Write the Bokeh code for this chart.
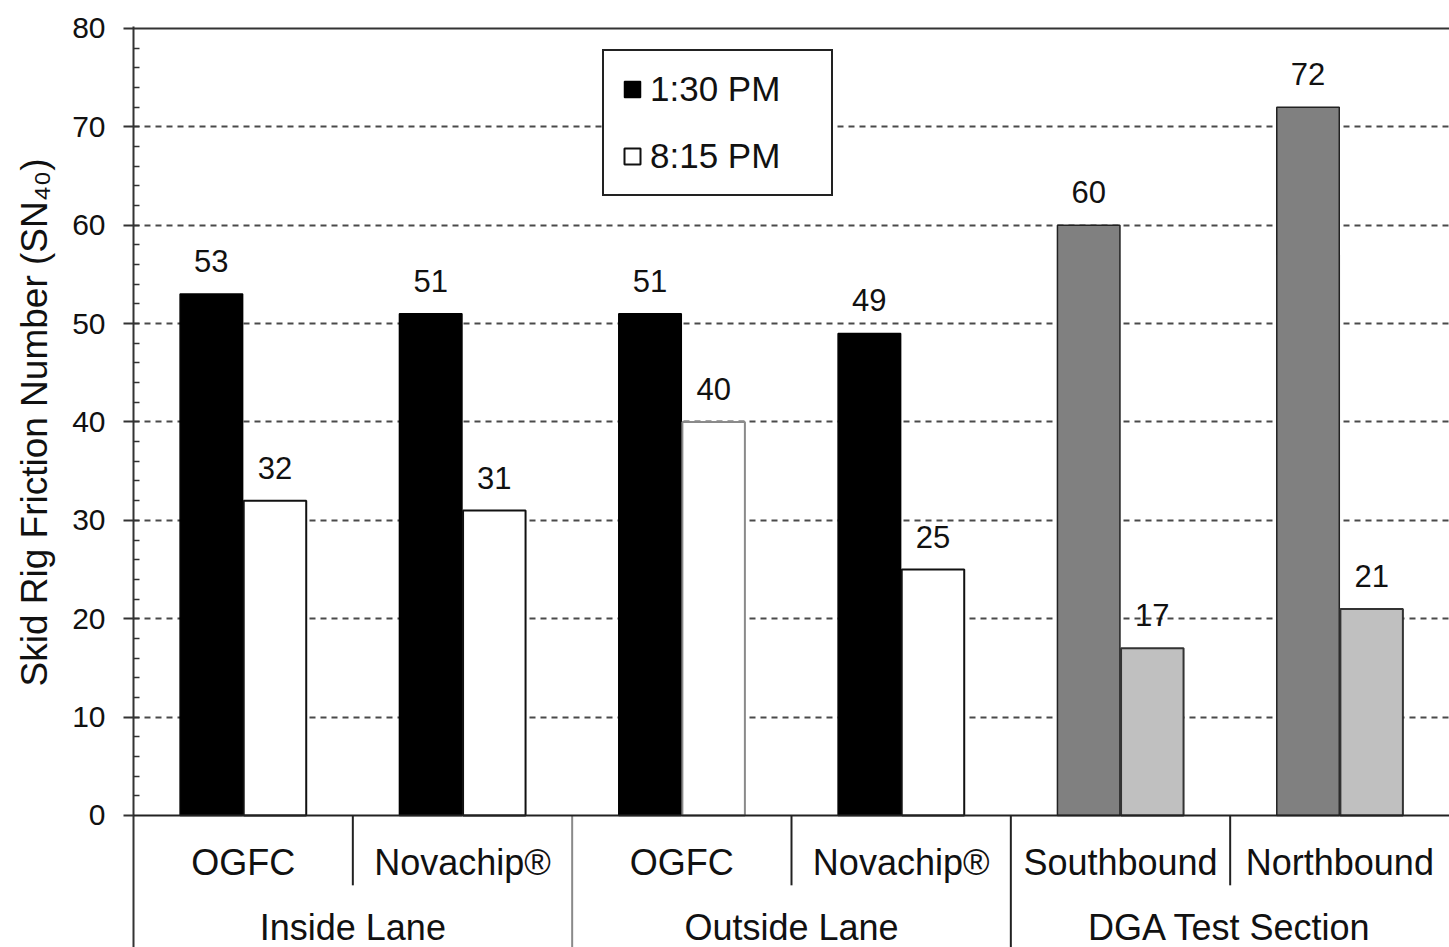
from bokeh.plotting import figure
from bokeh.models import (FactorRange, Range1d, FixedTicker, ColumnDataSource, Span,
                          Legend, LegendItem, Title)
from bokeh.transform import dodge
from bokeh.core.properties import value
from bokeh.embed import file_html
from bokeh.resources import INLINE

# ---------------- data ----------------
groups = ["Inside Lane", "Inside Lane", "Outside Lane", "Outside Lane",
          "DGA Test Section", "DGA Test Section"]
surfaces = ["OGFC", "Novachip®", "OGFC", "Novachip®", "Southbound", "Northbound"]
pm130 = [53, 51, 51, 49, 60, 72]
pm815 = [32, 31, 40, 25, 17, 21]
series_labels = ["1:30 PM", "8:15 PM"]
group_names = ["Inside Lane", "Outside Lane", "DGA Test Section"]
y_ticks = [0, 10, 20, 30, 40, 50, 60, 70, 80]
grid_ticks = [10, 20, 30, 40, 50, 60, 70]
y_title = "Skid Rig Friction Number (SN₄₀)"

# ---------------- styles ----------------
fill130 = ["black", "black", "black", "black", "#808080", "#808080"]
line130 = ["black", "black", "black", "black", "#222222", "#222222"]
fill815 = ["white", "white", "white", "white", "#c0c0c0", "#c0c0c0"]
line815 = ["#111111", "#111111", "#8a8a8a", "#111111", "#333333", "#333333"]
sep_colors = ["#8a8a8a", "#222222"]
FONT = "Liberation Sans"
TXT = "#111111"

factors = list(zip(groups, surfaces))
src = ColumnDataSource(dict(
    x=factors, pm130=pm130, pm815=pm815,
    t130=[str(v) for v in pm130], t815=[str(v) for v in pm815],
    f130=fill130, l130=line130, f815=fill815, l815=line815,
))

p = figure(
    x_range=FactorRange(*factors, range_padding=0, group_padding=0,
                        subgroup_padding=0, factor_padding=0),
    y_range=Range1d(-13.42, 80.2),
    width=1449, height=947,
    output_backend="svg", toolbar_location=None,
    x_axis_location=None,
    min_border_left=133, min_border_top=26, min_border_right=0, min_border_bottom=0,
)
p.outline_line_color = None
p.background_fill_color = "white"

# grid
p.xgrid.visible = False
p.ygrid.ticker = FixedTicker(ticks=grid_ticks)
p.ygrid.grid_line_color = "#4a4a4a"
p.ygrid.grid_line_width = 2
p.ygrid.grid_line_dash = "6 5"

# y axis
ax = p.yaxis[0]
ax.ticker = FixedTicker(ticks=y_ticks, minor_ticks=list(range(2, 80, 2)))
ax.axis_line_color = "#333333"
ax.axis_line_width = 2
ax.major_tick_out = 10
ax.major_tick_in = 0
ax.major_tick_line_color = "#333333"
ax.major_tick_line_width = 2
ax.minor_tick_in = 6
ax.minor_tick_out = 0
ax.minor_tick_line_color = "#333333"
ax.minor_tick_line_width = 1.5
ax.major_label_text_font = FONT
ax.major_label_text_font_size = "30px"
ax.major_label_text_color = TXT
ax.major_label_standoff = 18

# y axis title, placed along the 0-80 part of the axis
p.add_layout(Title(text=y_title, align="right", offset=132, text_font=FONT,
                   text_font_size="37px", text_font_style="normal", text_color=TXT,
                   standoff=25, vertical_align="top"), "left")

# top and zero lines
p.add_layout(Span(location=80, dimension="width", line_color="#333333", line_width=2))
p.add_layout(Span(location=0, dimension="width", line_color="#222222", line_width=2))

# bars
r1 = p.vbar(x=dodge("x", -0.145, range=p.x_range), top="pm130", width=0.285, source=src,
            fill_color="f130", line_color="l130", line_width=1.5)
r2 = p.vbar(x=dodge("x", 0.145, range=p.x_range), top="pm815", width=0.285, source=src,
            fill_color="f815", line_color="l815", line_width=2)

# value labels
for off, col, tcol in [(-0.145, "pm130", "t130"), (0.145, "pm815", "t815")]:
    p.text(x=dodge("x", off, range=p.x_range), y=col, text=tcol, source=src,
           text_align="center", text_baseline="middle", y_offset=-33,
           text_font=value(FONT), text_font_size=value("31px"), text_color=TXT)

# separators in label area
inner = [f for i, f in enumerate(factors[:-1]) if factors[i + 1][0] == f[0]]
outer = [f for i, f in enumerate(factors[:-1]) if factors[i + 1][0] != f[0]]
p.segment(x0=dodge("f", 0.5, range=p.x_range), x1=dodge("f", 0.5, range=p.x_range),
          y0=0, y1=-7.1, source=ColumnDataSource(dict(f=inner)),
          line_color="#222222", line_width=2)
p.segment(x0=dodge("f", 0.5, range=p.x_range), x1=dodge("f", 0.5, range=p.x_range),
          y0=0, y1=-14,
          source=ColumnDataSource(dict(f=outer, c=sep_colors[:len(outer)])),
          line_color="c", line_width=2)

# category labels
p.text(x="x", y=-4.78, text="s", source=ColumnDataSource(dict(x=factors, s=surfaces)),
       text_align="center", text_baseline="middle",
       text_font=value(FONT), text_font_size=value("36px"), text_color=TXT)
p.text(x="g", y=-11.4, text="g", source=ColumnDataSource(dict(g=group_names)),
       text_align="center", text_baseline="middle",
       text_font=value(FONT), text_font_size=value("36px"), text_color=TXT)

# legend
legend = Legend(
    items=[LegendItem(label=series_labels[0], renderers=[r1], index=0),
           LegendItem(label=series_labels[1], renderers=[r2], index=0)],
    location=(469, 751), orientation="vertical",
    border_line_color="#222222", border_line_width=2, border_line_alpha=1,
    background_fill_color="white", background_fill_alpha=1,
    padding=18, spacing=27, margin=0,
    glyph_width=20, glyph_height=20, label_height=40, label_width=163,
    label_standoff=8, label_text_font=FONT, label_text_font_size="35px",
    label_text_color=TXT, label_text_baseline="middle",
)
p.add_layout(legend)

open("out.html", "w").write(file_html(p, INLINE))
